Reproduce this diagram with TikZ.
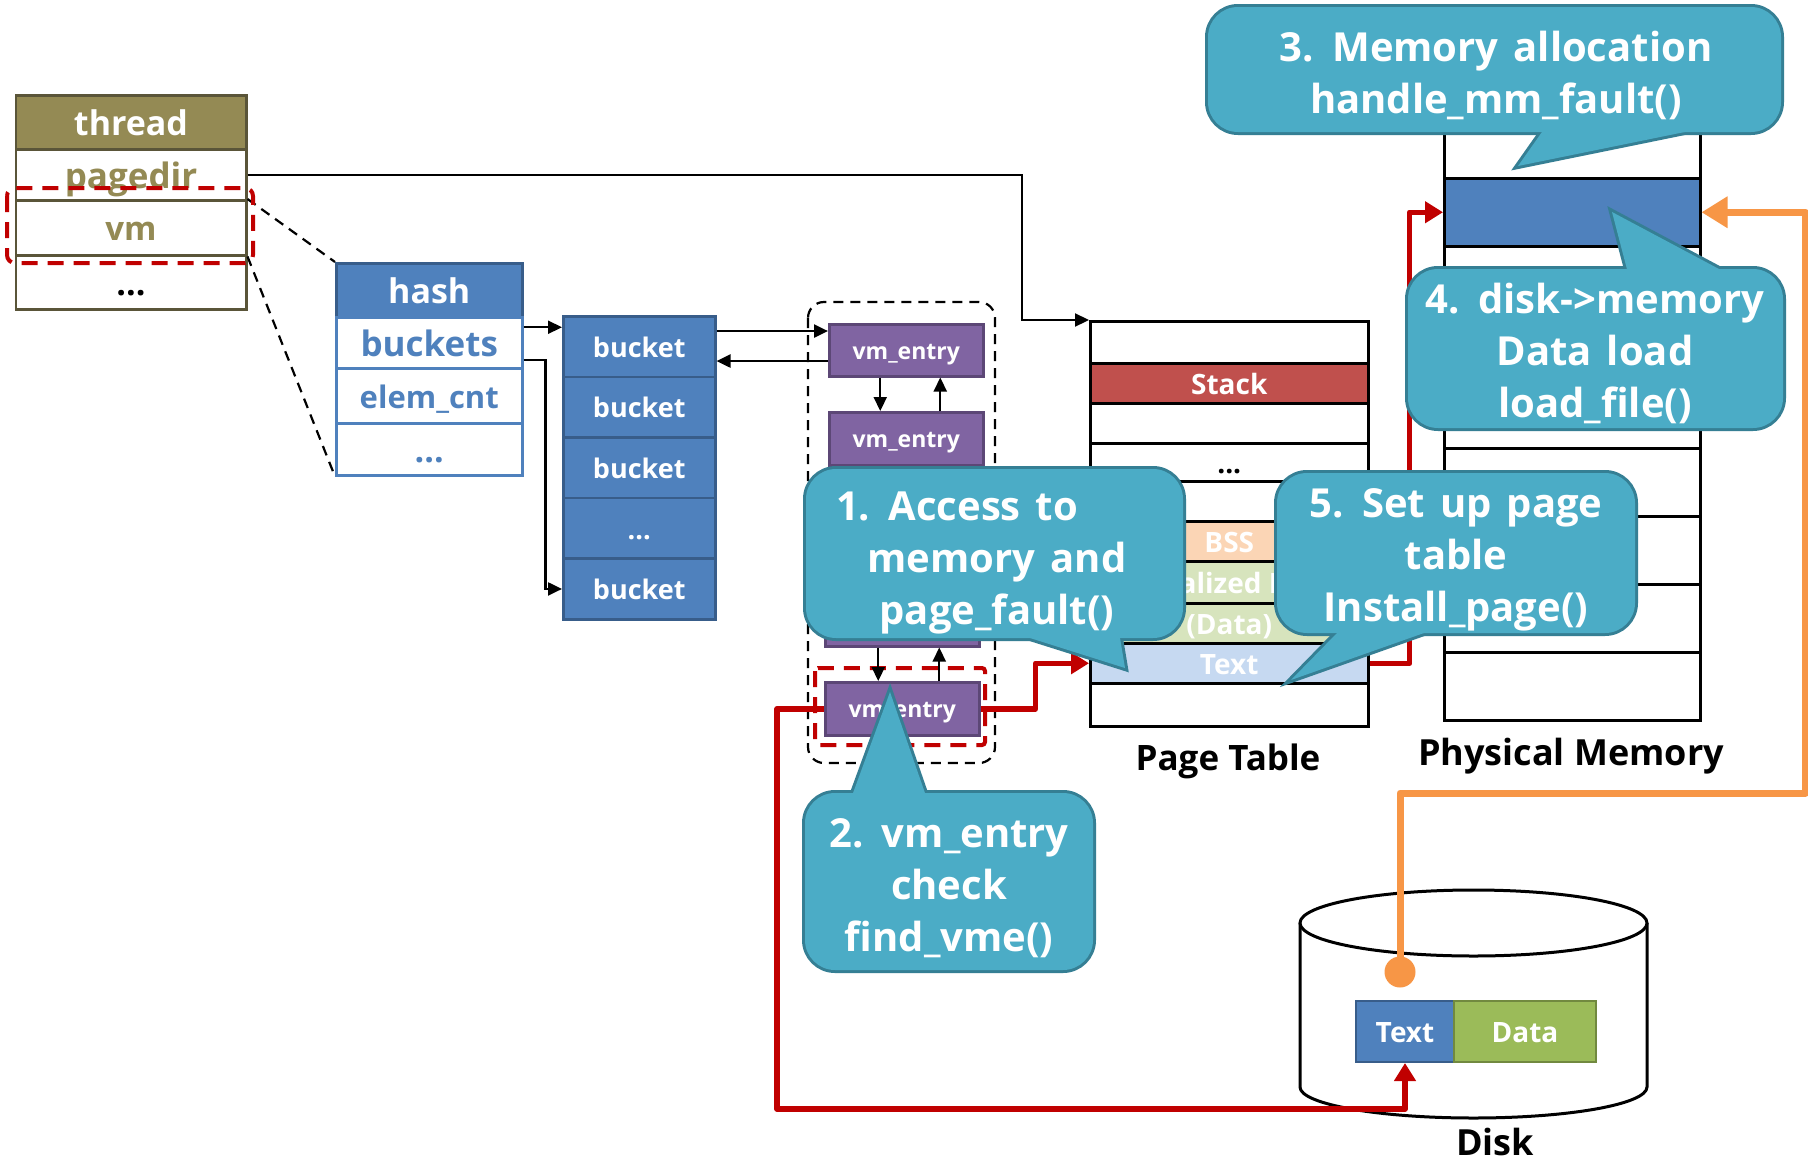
\documentclass[tikz,border=0pt]{standalone}
\usepackage{fontspec}
\setmainfont{Open Sans}
\usetikzlibrary{arrows.meta,calc}

\definecolor{thrOlive}{HTML}{948A54}
\definecolor{thrEdge}{HTML}{5A5539}
\definecolor{hashBlue}{HTML}{4F81BD}
\definecolor{hashEdge}{HTML}{385D8A}
\definecolor{vmPurple}{HTML}{8064A2}
\definecolor{vmEdge}{HTML}{5C4776}
\definecolor{stackRed}{HTML}{C0504D}
\definecolor{bssPeach}{HTML}{FBD5B5}
\definecolor{dataGreen}{HTML}{D7E4BD}
\definecolor{textBlue}{HTML}{C6D9F1}
\definecolor{calloutFill}{HTML}{4BACC6}
\definecolor{calloutEdge}{HTML}{357F94}
\definecolor{faultRed}{HTML}{C00000}
\definecolor{loadOrange}{HTML}{F79646}
\definecolor{diskGreen}{HTML}{9BBB59}
\definecolor{diskGreenEdge}{HTML}{71893F}

\newcommand\fsz[2]{\fontsize{#1}{#2}\selectfont\bfseries}
\newcommand\bubblefont{\fontsize{40}{52}\selectfont\bfseries\spaceskip 15pt plus 2pt minus 2pt\relax}
\newcommand\tridots{...}

% speech bubble: #1 body rectangle, #2 tail triangle, #3 name, #4 text centre, #5 text
\newcommand\callout[5]{%
  \draw[calloutEdge, line width=6pt, rounded corners=30pt] #1;
  \draw[calloutEdge, line width=6pt, line join=miter] #2 -- cycle;
  \fill[calloutFill, rounded corners=30pt] #1;
  \fill[calloutFill] #2 -- cycle;
  \node[calltext] (#3) at #4 {#5};
}

\begin{document}
\begin{tikzpicture}[x=1pt, y=-1pt,
  cell/.style={rectangle, draw, anchor=north west, inner sep=0pt,
    text depth=0pt, line width=2.5pt},
  fz/.style={font=\fsz{#1}{#1}, text height=0.8*#1pt},
  calltext/.style={text=white, font=\bubblefont, align=center, inner sep=0pt},
  label/.style={font=\fsz{#1}{#1}, inner sep=0pt, anchor=base, text depth=0pt},
  blk/.style={line width=2.2pt, -{Triangle[length=14pt, width=13pt]}},
  redc/.style={faultRed, line width=5.5pt, line join=round,
    -{Triangle[length=18pt, width=21pt]}},
  orc/.style={loadOrange, line width=7pt, line join=round,
    -{Triangle[length=26pt, width=30pt]}},
  blkdash/.style={line width=2.2pt, dash pattern=on 10pt off 7pt},
  reddash/.style={faultRed, line width=4pt, dash pattern=on 16pt off 10pt},
]
\useasboundingbox (0,0) rectangle (1808,1162);
\fill[white] (0,0) rectangle (1808,1162);

% ---- thread structure ----
\node[cell, draw=thrEdge, fill=thrOlive, text=white, fz=34,
  minimum width=230.5, minimum height=54] (thread) at (14.5,94) {thread};
\node[cell, draw=thrEdge, fill=white, text=thrOlive, fz=35,
  minimum width=230.5, minimum height=51] (pagedir) at (14.5,148) {pagedir};
\node[cell, draw=thrEdge, fill=white, text=thrOlive, fz=33,
  minimum width=230.5, minimum height=55] (vm) at (14.5,199) {vm};
\node[cell, draw=thrEdge, fill=white, fz=34,
  minimum width=230.5, minimum height=54] (thrdots) at (14.5,254) {\tridots};

% ---- hash structure ----
\node[cell, draw=hashEdge, fill=hashBlue, text=white, fz=34,
  minimum width=186, minimum height=54] (hhead) at (335,262) {hash};
\node[cell, draw=hashBlue, fill=white, text=hashBlue, fz=35,
  minimum width=186, minimum height=51] (hbk) at (335,316) {buckets};
\node[cell, draw=hashBlue, fill=white, text=hashBlue, fz=31,
  minimum width=186, minimum height=55] (hcnt) at (335,367) {elem\_cnt};
\node[cell, draw=hashBlue, fill=white, text=hashBlue, fz=34,
  minimum width=186, minimum height=52] (hdots) at (335,422) {\tridots};

% ---- bucket array ----
\foreach \i/\y/\t in {1/315/bucket, 2/375.6/bucket, 3/436.2/bucket, 4/496.8/\tridots, 5/557.4/bucket}
  \node[cell, draw=hashEdge, fill=hashBlue, text=white, fz=27,
    minimum width=152, minimum height=60.6] (b\i) at (562,\y) {\t};

% ---- vm_entry list (the third one sits behind a bubble) ----
\node[cell, draw=vmEdge, fill=vmPurple, text=white, fz=23,
  minimum width=154, minimum height=52] (vm1) at (828,323) {vm\_entry};
\node[cell, draw=vmEdge, fill=vmPurple, text=white, fz=23,
  minimum width=154, minimum height=53] (vm2) at (828,411) {vm\_entry};
\node[cell, draw=vmEdge, fill=vmPurple,
  minimum width=154, minimum height=53] (vm3) at (824,592) {};
\node[cell, draw=vmEdge, fill=vmPurple, text=white, fz=23,
  minimum width=154, minimum height=53] (vm4) at (824,681) {vm\_entry};

\draw[blkdash, rounded corners=16pt] (808,302) rectangle (995,763);
\draw[reddash, rounded corners=3pt] (815,668) rectangle (985,745);

% ---- page table ----
\foreach \n/\y/\h/\c/\t in {pt1/320/42/white/{}, ptstack/362/40/stackRed/Stack,
    pt3/402/40/white/{}, ptdots/442/38/white/{}, pt5/480/40/white/{},
    ptbss/520/40/bssPeach/BSS, ptidata/560/42/dataGreen/Initialized Data,
    ptdata/602/40/dataGreen/(Data), pttext/642/40/textBlue/Text, pt10/682/43/white/{}}
  \node[cell, fill=\c, text=white, fz=28,
    minimum width=278, minimum height=\h] (\n) at (1089,\y) {\t};
\node[fz=28, inner sep=0pt] (ptdotstext) at (ptdots) {\tridots};
\node[label=35] (ptlabel) at (1228,770) {Page Table};

% ---- physical memory ----
\foreach \n/\y/\h/\c in {pm1/109/68/white, pmblue/177/68/hashBlue, pm3/245/67.5/white,
    pm4/312.5/67.5/white, pm5/380/67/white, pm6/447/68/white, pm7/515/68/white,
    pm8/583/68/white, pm9/651/68/white}
  \node[cell, fill=\c, minimum width=256, minimum height=\h] (\n) at (1443,\y) {};
\node[label=36] (pmlabel) at (1571,765) {Physical Memory};

% ---- disk ----
\draw[line width=3pt, fill=white] (1300,923) -- (1300,1087)
  arc[start angle=180, end angle=0, x radius=173.5, y radius=31] -- (1647,923);
\draw[line width=3pt, fill=white] (1473.5,923) ellipse[x radius=173.5, y radius=33];
\node[cell, draw=hashEdge, fill=hashBlue, text=white, fz=28, line width=2pt,
  minimum width=98, minimum height=61] (dtext) at (1355,1000) {Text};
\node[cell, draw=diskGreenEdge, fill=diskGreen, text=white, fz=28, line width=2pt,
  minimum width=142, minimum height=61] (ddata) at (1453,1000) {Data};
\node[circle, fill=loadOrange, minimum size=31pt, inner sep=0pt] (ddot) at (1400,972) {};
\node[label=36] (disklabel) at (1495,1155) {Disk};

% ---- thread -> hash zoom lines ----
\draw[blkdash] (vm.north east) -- (hhead.north west);
\draw[blkdash] (vm.south east) -- (hdots.south west);
\draw[reddash, rounded corners=8pt] (7,188) rectangle (253,263);

% ---- black connectors ----
\draw[blk] (pagedir.east) -| ($(pt1.north west)+(-67,0)$) -- (pt1.north west);
\coordinate (hbkA) at ($(hbk.east)+(0,-15.5)$);
\coordinate (hbkB) at ($(hbk.east)+(0,17.5)$);
\draw[blk] (hbkA) -- (hbkA -| b1.west);
\draw[blk] (hbkB) -- ++(22,0) |- (b5.west);
\coordinate (bA) at ($(b1.east)+(0,-15.5)$);
\coordinate (bB) at ($(b1.east)+(0,14.5)$);
\draw[blk] (bA) -- (bA -| vm1.west);
\draw[blk] (bB -| vm1.west) -- (bB);
\draw[blk] ($(vm1.south)+(-26,0)$) -- ($(vm2.north)+(-26,0)$);
\draw[blk] ($(vm2.north)+(34,0)$) -- ($(vm1.south)+(34,0)$);
\draw[blk] ($(vm2.south)+(-26,0)$) -- ($(vm3.north)+(-22,0)$);
\draw[blk] ($(vm3.north)+(38,0)$) -- ($(vm2.south)+(34,0)$);
\draw[blk] ($(vm3.south)+(-24,0)$) -- ($(vm4.north)+(-24,0)$);
\draw[blk] ($(vm4.north)+(37,0)$) -- ($(vm3.south)+(37,0)$);

% ---- page fault path ----
\draw[redc] (vm4.west) -- ++(-47,0) |- ($(dtext.south)+(0,46)$) -- (dtext.south);
\draw[redc] (vm4.east) -- ++(55,0) |- (pttext.west);
\draw[redc] (pttext.east) -- ++(40,0) |- (pmblue.west);
\draw[orc] (ddot.center) -- ++(0,-179) -| ($(pmblue.east)+(104,0)$) -- (pmblue.east);

% ---- speech bubbles ----
\callout{(806,469) rectangle (1183,638)}{(973,620) -- (1125,668) -- (1117,620)}
  {c1}{(997,563)}{1. Access to\hspace*{80pt}\\memory and\\page\_fault()}
\callout{(805,793) rectangle (1093,970)}{(845.7,813) -- (890,692) -- (931.9,813)}
  {c2}{(949,888)}{2. vm\_entry\\check\\find\_vme()}
\callout{(1208,7) rectangle (1781,132)}{(1547.6,124) -- (1518,166) -- (1724,124)}
  {c3}{(1496,75)}{3. Memory allocation\\handle\_mm\_fault()}
\callout{(1408,269) rectangle (1783,428)}{(1629,277) -- (1612,212) -- (1734,277)}
  {c4}{(1595,353)}{4. disk->memory\\Data load\\load\_file()}
\callout{(1277,473) rectangle (1635,633)}{(1344.8,625) -- (1291,680) -- (1446.6,625)}
  {c5}{(1456,560)}{5. Set up page\\table\\Install\_page()}
\end{tikzpicture}
\end{document}
